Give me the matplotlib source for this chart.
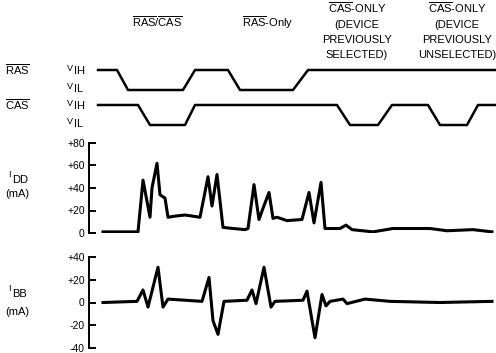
import numpy as np
import matplotlib.pyplot as plt

plt.rcParams['font.family'] = ['Liberation Sans', 'DejaVu Sans']
plt.rcParams['mathtext.fontset'] = 'custom'
plt.rcParams['mathtext.rm'] = 'Liberation Sans'

# timing waveforms (time units, level 1 = high, 0 = low)
ras_t = [9, 28, 39, 94, 106, 139, 151, 204, 219, 407]
ras_v = [1, 1, 0, 0, 1, 1, 0, 0, 1, 1]
cas_t = [9, 49, 61, 96, 106, 248, 261, 289, 303, 339, 351, 378, 389, 407]
cas_v = [1, 1, 0, 0, 1, 1, 0, 0, 1, 1, 0, 0, 1, 1]

# I_DD trace (mA)
idd_t = [14, 49, 54, 61, 63, 68, 71, 76, 79, 86, 96, 111, 119, 123, 128, 134, 144, 156, 159,
         165, 170, 174, 180, 184, 188, 198, 213, 220, 225, 232, 236, 251, 257, 263, 284, 304,
         341, 358, 384, 403]
idd_v = [1, 1, 47, 14, 40, 62, 34, 31, 14, 15, 16, 14, 50, 24, 52, 5, 4, 3, 4,
         43, 12, 22, 36, 13, 14, 11, 12, 36, 9, 45, 4, 4, 7, 3, 1, 4,
         4, 2, 3, 1]

# I_BB trace (mA)
ibb_t = [14, 48, 54, 59, 69, 74, 79, 96, 113, 120, 124, 129, 135, 158, 163, 167, 175, 182, 186,
         214, 218, 226, 233, 237, 241, 254, 258, 276, 301, 351, 403]
ibb_v = [0, 1, 11, -4, 31, -4, 3, 2, 1, 22, -16, -28, 1, 2, 11, -1, 31, -4, 1,
         2, 10, -31, 7, -3, 1, 3, -1, 3, 1, 0, 1]

idd_ticks = [0, 20, 40, 60, 80]
idd_labels = ['0', '+20', '+40', '+60', '+80']
ibb_ticks = [-40, -20, 0, 20, 40]
ibb_labels = ['-40', '-20', '0', '+20', '+40']

W, H = 496, 353
fig = plt.figure(figsize=(W/100, H/100), dpi=100)

def box(x0, y_top, y_bot):
    return [x0/W, 1 - y_bot/H, (W - x0)/W, (y_bot - y_top)/H]

def txt(x, y, s, size=8, **kw):
    fig.text(x/W, 1 - y/H, s, fontsize=size, **kw)

# timing diagram
ax0 = fig.add_axes(box(89, 60, 130))
ax0.plot(ras_t, np.array(ras_v)*1.0 + 2.0, color='black', lw=1.8)
ax0.plot(cas_t, np.array(cas_v)*1.0 + 0.25, color='black', lw=1.8)
ax0.set_xlim(0, 407)
ax0.set_ylim(0, 3.5)
ax0.axis('off')

def trace_axes(ytop, ybot, t, v, lo, hi, ticks, labels):
    ax = fig.add_axes(box(89, ytop, ybot))
    ax.plot(t, v, color='black', lw=2.2, solid_joinstyle='round')
    ax.set_xlim(0, 407)
    ax.set_ylim(lo, hi)
    for s in ['top', 'right', 'bottom']:
        ax.spines[s].set_visible(False)
    ax.spines['left'].set_linewidth(1.4)
    ax.set_xticks([])
    ax.set_yticks(ticks)
    ax.set_yticklabels(labels)
    ax.tick_params(axis='y', direction='in', length=5, width=1.4, pad=3, labelsize=7.5)
    ax.patch.set_alpha(0)
    return ax

trace_axes(143, 233, idd_t, idd_v, 0, 80, idd_ticks, idd_labels)
trace_axes(257, 348, ibb_t, ibb_v, -40, 40, ibb_ticks, ibb_labels)

# headers
txt(157, 27, r'$\overline{\mathrm{RAS}}$/$\overline{\mathrm{CAS}}$', ha='center', va='baseline')
txt(268, 27, r'$\overline{\mathrm{RAS}}$-Only', ha='center', va='baseline')
for x0, last in [(357, 'SELECTED)'), (457, 'UNSELECTED)')]:
    lines = [r'$\overline{\mathrm{CAS}}$-ONLY', '(DEVICE', 'PREVIOUSLY', last]
    for i, s in enumerate(lines):
        txt(x0, 13 + 15*i, s, ha='center', va='baseline')

# left labels
txt(17, 75, r'$\overline{\mathrm{RAS}}$', ha='center', va='baseline')
txt(17, 110, r'$\overline{\mathrm{CAS}}$', ha='center', va='baseline')
for yb, sub in [(74, 'IH'), (92, 'IL'), (109, 'IH'), (127, 'IL')]:
    txt(67, yb - 3, 'V', size=6.5, va='baseline')
    txt(74, yb, sub, va='baseline')

for yb, sub, ym in [(183, 'DD', 194), (297, 'BB', 312)]:
    txt(8, yb - 6, 'I', size=6.5, va='baseline')
    txt(12, yb, sub, va='baseline')
    txt(17, ym, '(mA)', ha='center', va='center')

fig.savefig('out.png', dpi=100, facecolor='white')
